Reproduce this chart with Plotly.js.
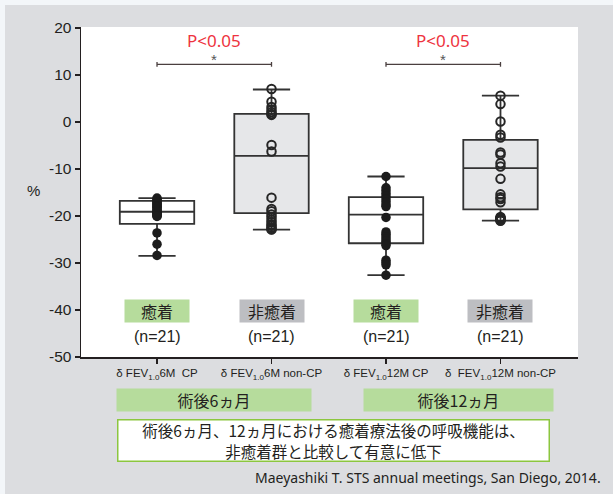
<!DOCTYPE html>
<html>
<head>
<meta charset="utf-8">
<script src="https://cdn.plot.ly/plotly-3.0.1.min.js"></script>
<style>
html,body{margin:0;padding:0;background:#dcdde0;}
#chart{width:613px;height:494px;}
</style>
</head>
<body>
<div id="chart"></div>
<script>
// ---- data ----
const categories = ['6M CP', '6M non-CP', '12M CP', '12M non-CP'];
const tickLabels = [
  'δ FEV<sub>1.0</sub>6M  CP',
  'δ FEV<sub>1.0</sub>6M non-CP',
  'δ FEV<sub>1.0</sub>12M CP',
  'δ  FEV<sub>1.0</sub>12M non-CP'
];
const yTickValues = [20, 10, 0, -10, -20, -30, -40, -50];
const yTickLabels = ['20', '10', '0', '-10', '-20', '-30', '-40', '-50'];
const groupLabels = ['癒着', '非癒着', '癒着', '非癒着'];
const nLabels = ['(n=21)', '(n=21)', '(n=21)', '(n=21)'];
const periodLabels = ['術後6ヵ月', '術後12ヵ月'];
const pLabels = ['P<0.05', 'P<0.05'];

const q1Values = [-21.7, -19.4, -25.8, -18.6];
const medianValues = [-19.1, -7.2, -19.7, -9.8];
const q3Values = [-16.8, 1.7, -16.0, -3.8];
const lowerWhiskers = [-28.5, -22.9, -32.6, -21.0];
const upperWhiskers = [-16.2, 6.9, -11.6, 5.6];

const points6mCP = [-16.2, -16.5, -16.8, -17.0, -17.3, -17.5, -17.8, -18.0, -18.2, -18.5,
  -18.7, -19.0, -19.2, -19.4, -19.6, -19.8, -20.0, -20.1, -23.6, -26.0, -28.4];
const points6mNonCP = [7.0, 4.3, 3.2, 2.6, 2.1, 1.7, 1.5, -4.9, -6.3, -16.1, -18.5,
  -19.0, -19.7, -20.2, -20.8, -21.3, -21.8, -22.1, -22.5, -22.8, -22.9];
const points12mCP = [-11.6, -14.0, -14.6, -15.2, -15.8, -16.4, -17.0, -17.6, -18.0, -20.3,
  -23.4, -23.9, -24.4, -24.9, -25.4, -25.9, -26.3, -29.4, -29.9, -30.4, -32.6];
const points12mNonCP = [5.6, 3.8, 0.1, -2.7, -3.3, -6.5, -6.9, -8.8, -9.5, -12.1, -15.4,
  -16.0, -16.4, -17.1, -20.2, -20.4, -20.5, -20.6, -20.8, -20.9, -21.0];

// ---- build ----
const pointSets = [points6mCP, points6mNonCP, points12mCP, points12mNonCP];
const boxFills = ['#ffffff', '#e6e7e9', '#ffffff', '#e6e7e9'];
const labelBg = ['#b6dc9c', '#bdbec2', '#b6dc9c', '#bdbec2'];
const lineCol = '#333333';

const traces = [];
categories.forEach((c, i) => {
  traces.push({
    type: 'box', name: c, x: [i],
    q1: [q1Values[i]], median: [medianValues[i]], q3: [q3Values[i]],
    lowerfence: [lowerWhiskers[i]], upperfence: [upperWhiskers[i]],
    width: 0.65, whiskerwidth: 0.5,
    fillcolor: boxFills[i], line: {color: lineCol, width: 1.8},
    boxpoints: false, hoverinfo: 'skip', showlegend: false
  });
});
categories.forEach((c, i) => {
  const filled = (i % 2 === 0);
  traces.push({
    type: 'scatter', mode: 'markers', name: c + ' pts',
    x: pointSets[i].map(() => i), y: pointSets[i],
    marker: filled
      ? {symbol: 'circle', size: 9.5, color: '#1c1c1c', line: {width: 0}}
      : {symbol: 'circle-open', size: 8.5, color: '#262626', line: {width: 2, color: '#262626'}},
    showlegend: false, hoverinfo: 'skip'
  });
});

// Layout geometry
const L = 81, R = 35, T = 27, B = 137;
const W = 613, H = 494;
const pw = W - L - R, ph = H - T - B;
const px2paperX = p => (p - L) / pw;
const px2paperY = p => (H - B - p) / ph;

const annotations = [];
const shapes = [];
const textCol = '#231f20';

// significance brackets
[[0, 1], [2, 3]].forEach((pair, k) => {
  const yb = 12.25;
  shapes.push({type: 'line', xref: 'x', yref: 'y', x0: pair[0], x1: pair[1], y0: yb, y1: yb,
    line: {color: '#4a3f3f', width: 1.3}});
  pair.forEach(xx => shapes.push({type: 'line', xref: 'x', yref: 'y', x0: xx, x1: xx,
    y0: yb - 0.5, y1: yb + 0.5, line: {color: '#4a3f3f', width: 1.3}}));
  const xm = (pair[0] + pair[1]) / 2;
  annotations.push({xref: 'x', yref: 'y', x: xm, y: 17.4, xanchor: 'center', yanchor: 'middle',
    text: pLabels[k], showarrow: false,
    font: {family: 'Noto Sans, sans-serif', size: 17, color: '#ee3340'}});
  annotations.push({xref: 'x', yref: 'y', x: xm, y: 13.2, xanchor: 'center', yanchor: 'middle',
    text: '*', showarrow: false,
    font: {family: 'Liberation Sans, sans-serif', size: 15, color: '#555555'}});
});

// group labels and n
categories.forEach((c, i) => {
  annotations.push({xref: 'x', yref: 'y', x: i, y: -40.3, xanchor: 'center', yanchor: 'middle',
    text: groupLabels[i], showarrow: false,
    bgcolor: labelBg[i], width: 64, height: 22, borderpad: 0,
    font: {family: 'Noto Sans CJK JP, sans-serif', size: 16, color: textCol}});
  annotations.push({xref: 'x', yref: 'y', x: i, y: -45.6, xanchor: 'center', yanchor: 'middle',
    text: nLabels[i], showarrow: false,
    font: {family: 'Liberation Sans, sans-serif', size: 16, color: textCol}});
});

// period labels
const periodCenters = [214, 458.5];
const periodWidths = [194, 189];
periodLabels.forEach((t, k) => {
  annotations.push({xref: 'paper', yref: 'paper', x: px2paperX(periodCenters[k]), y: px2paperY(399.5),
    xanchor: 'center', yanchor: 'middle',
    text: t, showarrow: false, bgcolor: '#b6dc9c', width: periodWidths[k], height: 22, borderpad: 0,
    font: {family: 'Noto Sans CJK JP, sans-serif', size: 16, color: textCol}});
});

// conclusion box
annotations.push({xref: 'paper', yref: 'paper', x: px2paperX(333.5), y: px2paperY(440.8),
  xanchor: 'center', yanchor: 'middle',
  text: '術後6ヵ月、12ヵ月における癒着療法後の呼吸機能は、<br>非癒着群と比較して有意に低下',
  showarrow: false, bgcolor: '#ffffff', bordercolor: '#8cc63f', borderwidth: 1.5, borderpad: 0,
  width: 430, height: 40,
  font: {family: 'Noto Sans CJK JP, sans-serif', size: 15.5, color: textCol}});

// citation
annotations.push({xref: 'paper', yref: 'paper', x: px2paperX(603), y: px2paperY(477),
  xanchor: 'right', yanchor: 'middle',
  text: 'Maeyashiki T. STS annual meetings, San Diego, 2014.', showarrow: false,
  font: {family: 'Noto Sans, sans-serif', size: 14, color: textCol}});

// y-axis unit
annotations.push({xref: 'paper', yref: 'paper', x: px2paperX(33), y: px2paperY(190),
  xanchor: 'center', yanchor: 'middle',
  text: '%', showarrow: false, font: {family: 'Liberation Sans, sans-serif', size: 15, color: textCol}});

// light edge strips
shapes.push({type: 'rect', xref: 'paper', yref: 'paper', x0: px2paperX(0), x1: px2paperX(5),
  y0: px2paperY(494), y1: px2paperY(0), fillcolor: '#f3f6f9', line: {width: 0}, layer: 'below'});
shapes.push({type: 'rect', xref: 'paper', yref: 'paper', x0: px2paperX(0), x1: px2paperX(613),
  y0: px2paperY(5), y1: px2paperY(0), fillcolor: '#f3f6f9', line: {width: 0}, layer: 'below'});

const layout = {
  width: W, height: H,
  margin: {l: L, r: R, t: T, b: B, pad: 0},
  paper_bgcolor: '#dcdde0', plot_bgcolor: '#ffffff',
  showlegend: false,
  xaxis: {
    range: [-0.664, 3.677], tickvals: categories.map((c, i) => i), ticktext: tickLabels,
    showline: true, linecolor: textCol, linewidth: 1.5, ticks: 'outside', ticklen: 5,
    tickcolor: textCol, tickwidth: 1.5, showgrid: false, zeroline: false,
    tickfont: {family: 'Liberation Sans, sans-serif', size: 11.5, color: textCol}
  },
  yaxis: {
    range: [-50, 20.2], tickvals: yTickValues, ticktext: yTickLabels,
    showline: true, linecolor: textCol, linewidth: 1.5, ticks: 'outside', ticklen: 5,
    tickcolor: textCol, tickwidth: 1.5, showgrid: false, zeroline: false,
    tickfont: {family: 'Liberation Sans, sans-serif', size: 15.5, color: textCol}
  },
  annotations: annotations,
  shapes: shapes
};

Plotly.newPlot('chart', traces, layout, {displayModeBar: false, staticPlot: true});
</script>
</body>
</html>
